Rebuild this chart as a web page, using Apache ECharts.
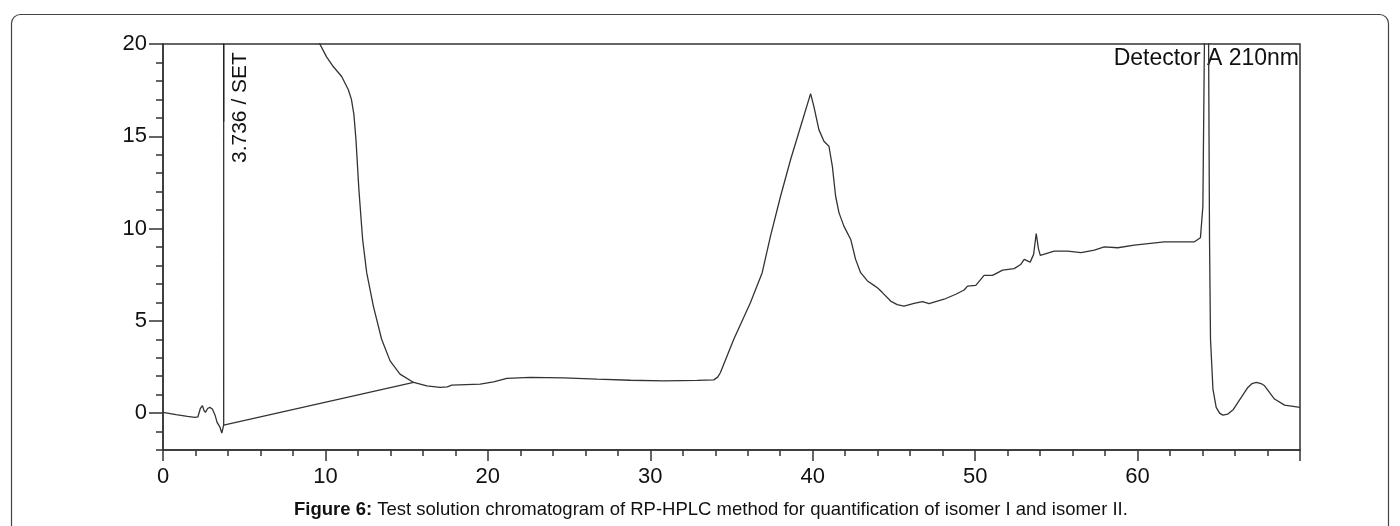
<!DOCTYPE html>
<html>
<head>
<meta charset="utf-8">
<script src="https://cdn.jsdelivr.net/npm/echarts@6/dist/echarts.min.js"></script>
<style>
  html, body { margin: 0; padding: 0; background: #fff; }
  #chart { width: 1400px; height: 526px; }
</style>
</head>
<body>
<div id="chart"></div>
<script>
// Retention time (min) and detector response (mAU) of the test solution trace
const retentionTime = [
  0, 0.8, 1.5, 1.96, 2.15, 2.3, 2.43, 2.52, 2.61, 2.75, 2.88, 3.04, 3.2, 3.33, 3.5, 3.62, 3.736, 3.736,
  9.3, 10.07, 10.48, 11.0, 11.41, 11.6, 11.75, 11.88, 12.06, 12.29, 12.54, 12.95, 13.46, 13.98, 14.59, 15.43,
  16.24, 17.06, 17.5, 17.78, 19.53, 20.35, 21.17, 22.61, 24.66, 26.72, 28.77, 30.83, 32.89, 33.91,
  34.15, 34.32, 35.14, 36.17, 36.89, 37.4, 38.02, 38.64, 39.26, 39.87, 40.07, 40.38, 40.69, 41.0,
  41.21, 41.41, 41.62, 41.92, 42.34, 42.64, 42.95, 43.37, 43.77, 43.85, 44.0, 44.29, 44.8, 45.2,
  45.62, 46.24, 46.76, 47.16, 48.09, 48.81, 49.32, 49.53, 50.04, 50.55, 51.07, 51.69, 52.4, 52.8,
  53.02, 53.39, 53.6, 53.76, 53.9, 54.01, 54.87, 55.7, 56.52, 57.34, 57.95, 58.78, 59.8, 61.65,
  63.5, 63.87, 64.02, 64.12, 64.25, 64.37, 64.43, 64.49, 64.64, 64.84, 65.05, 65.25, 65.56, 65.9,
  66.18, 66.79, 67.05, 67.31, 67.6, 67.82, 68.43, 69.05, 70.0
];
const signal = [
  0.04, -0.08, -0.18, -0.23, -0.2, 0.25, 0.4, 0.15, 0.04, 0.25, 0.31, 0.22, -0.1, -0.5, -0.75, -1.08, -0.65, 60,
  20.6, 19.3, 18.78, 18.24, 17.52, 17.0, 16.2, 14.82, 12.11, 9.41, 7.61, 5.8, 4.0, 2.83, 2.11, 1.66,
  1.48, 1.39, 1.42, 1.51, 1.57, 1.69, 1.88, 1.93, 1.91, 1.84, 1.78, 1.75, 1.77, 1.8,
  1.95, 2.2, 4.0, 5.99, 7.61, 9.59, 11.75, 13.74, 15.54, 17.31, 16.62, 15.36, 14.73, 14.46,
  13.37, 11.75, 10.85, 10.13, 9.41, 8.33, 7.61, 7.16, 6.92, 7.0, 6.78, 6.53, 6.07, 5.88,
  5.8, 5.95, 6.04, 5.93, 6.17, 6.44, 6.67, 6.88, 6.92, 7.46, 7.46, 7.75, 7.83, 8.05,
  8.33, 8.18, 8.6, 9.73, 8.9, 8.55, 8.78, 8.78, 8.69, 8.83, 9.01, 8.96, 9.1, 9.28,
  9.28, 9.5, 11.2, 20.5, 40, 20.5, 9.41, 4.0, 1.3, 0.31, 0.0, -0.11, -0.05, 0.2,
  0.58, 1.39, 1.6, 1.66, 1.6, 1.48, 0.76, 0.43, 0.31
];

// Integration baseline drawn under the solvent front
const baselineTime = [3.736, 15.43];
const baselineSignal = [-0.65, 1.66];

// Event marker at the set time
const eventTime = [3.736, 3.736];
const eventSignal = [20, 15.79];
const eventLabel = '3.736 / SET';

// Axis ticks and labels
const xLabelValues = [0, 10, 20, 30, 40, 50, 60];
const xMajorTicks = [0, 10, 20, 30, 40, 50, 60, 70];
const yLabelValues = [0, 5, 10, 15, 20];
const detectorText = 'Detector A 210nm';
const captionBold = 'Figure 6:';
const captionText = ' Test solution chromatogram of RP-HPLC method for quantification of isomer I and isomer II.';

const zip = (a, b) => a.map((v, i) => [v, b[i]]);

const FONT = '"Liberation Sans", Arial, sans-serif';
const AXIS_COLOR = '#333';

const chart = echarts.init(document.getElementById('chart'), null, { renderer: 'canvas' });

const option = {
  animation: false,
  backgroundColor: '#fff',
  grid: {
    left: 163, top: 44, right: 100, bottom: 76,
    show: true, borderColor: AXIS_COLOR, borderWidth: 1.5, backgroundColor: 'transparent'
  },
  title: {
    text: '{b|' + captionBold + '}' + captionText,
    left: 289,
    top: 495,
    textStyle: {
      fontFamily: FONT, fontSize: 18.5, fontWeight: 'normal', color: '#111',
      rich: { b: { fontFamily: FONT, fontSize: 18.5, fontWeight: 'bold', color: '#111' } }
    }
  },
  xAxis: [
    {
      type: 'value', min: 0, max: 70, interval: 2,
      axisLine: { show: true, onZero: false, lineStyle: { color: AXIS_COLOR, width: 1.5 } },
      axisTick: { show: true, length: 6, lineStyle: { color: AXIS_COLOR, width: 1.5 } },
      axisLabel: {
        customValues: xLabelValues, margin: 16,
        fontFamily: FONT, fontSize: 22, color: '#111'
      },
      splitLine: { show: false }
    },
    {
      type: 'value', min: 0, max: 70, position: 'bottom',
      axisLine: { show: false, onZero: false },
      axisTick: { show: true, customValues: xMajorTicks, length: 11, lineStyle: { color: AXIS_COLOR, width: 1.5 } },
      axisLabel: { show: false },
      splitLine: { show: false }
    }
  ],
  yAxis: [
    {
      type: 'value', min: -2, max: 20, interval: 1,
      axisLine: { show: true, onZero: false, lineStyle: { color: AXIS_COLOR, width: 1.5 } },
      axisTick: { show: true, length: 7, lineStyle: { color: AXIS_COLOR, width: 1.5 } },
      axisLabel: {
        customValues: yLabelValues, margin: 16,
        fontFamily: FONT, fontSize: 22, color: '#111'
      },
      splitLine: { show: false }
    },
    {
      type: 'value', min: -2, max: 20, position: 'left',
      axisLine: { show: false, onZero: false },
      axisTick: { show: true, customValues: yLabelValues, length: 14, lineStyle: { color: AXIS_COLOR, width: 1.5 } },
      axisLabel: { show: false },
      splitLine: { show: false }
    }
  ],
  graphic: [
    {
      type: 'rect', silent: true,
      shape: { x: 11.5, y: 14.5, width: 1377, height: 540, r: 9 },
      style: { fill: 'none', stroke: '#444', lineWidth: 1.2 }
    },
    {
      type: 'text', silent: true,
      x: 1299, y: 47,
      style: {
        text: detectorText, fontFamily: FONT, fontSize: 23, fill: '#111',
        align: 'right', verticalAlign: 'top'
      }
    },
    {
      type: 'text', silent: true,
      x: 240, y: 163, rotation: Math.PI / 2,
      style: {
        text: eventLabel, fontFamily: FONT, fontSize: 21, fill: '#111',
        align: 'left', verticalAlign: 'middle'
      }
    }
  ],
  series: [
    {
      name: 'Detector A',
      type: 'line',
      data: zip(retentionTime, signal),
      showSymbol: false,
      clip: true,
      lineStyle: { color: '#333', width: 1.3 },
      z: 3
    },
    {
      name: 'Baseline',
      type: 'line',
      data: zip(baselineTime, baselineSignal),
      showSymbol: false,
      lineStyle: { color: '#333', width: 1.2 },
      z: 2
    },
    {
      name: 'Event',
      type: 'line',
      data: zip(eventTime, eventSignal),
      showSymbol: false,
      lineStyle: { color: '#222', width: 1.3 },
      z: 4
    }
  ]
};

chart.setOption(option);
</script>
</body>
</html>
